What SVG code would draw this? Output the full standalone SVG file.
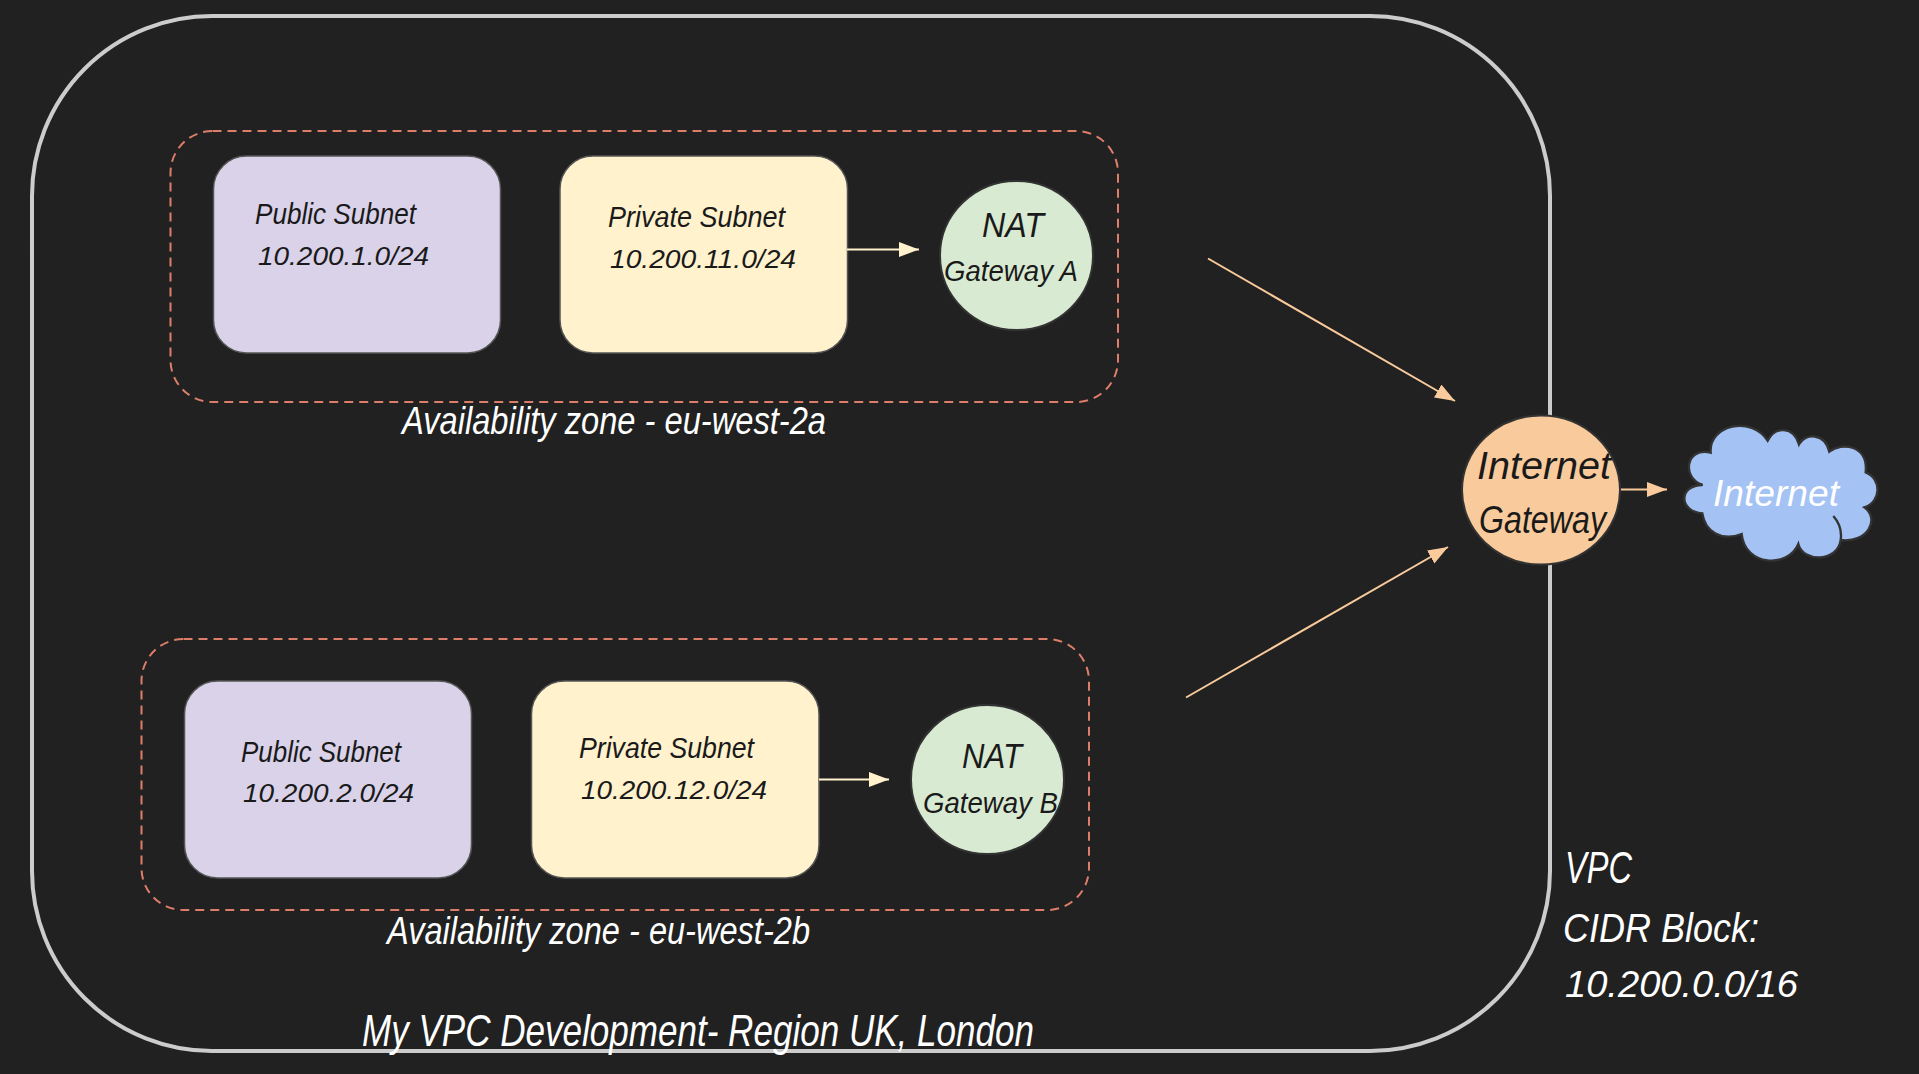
<svg xmlns="http://www.w3.org/2000/svg" width="1919" height="1074" viewBox="0 0 1919 1074">
<style>
text{font-family:"Liberation Sans",Arial,sans-serif;font-style:italic;fill:#1a1a1a}
.w{fill:#fff}
.box{stroke:#555;stroke-width:1.5}
.az{fill:none;stroke:#dd7e6b;stroke-width:2;stroke-dasharray:9 6}
.node{stroke:#333;stroke-width:2}
.c1{fill:none;stroke:#fff2cc;stroke-width:2}
.c2{fill:none;stroke:#f9cb9c;stroke-width:2}
</style>
<defs>
<marker id="a1" markerUnits="userSpaceOnUse" markerWidth="21" markerHeight="16" refX="20" refY="7.5" orient="auto"><path d="M0 0L20 7.5L0 15z" fill="#fff2cc"/></marker>
<marker id="a2" markerUnits="userSpaceOnUse" markerWidth="21" markerHeight="16" refX="20" refY="7.5" orient="auto"><path d="M0 0L20 7.5L0 15z" fill="#f9cb9c"/></marker>
</defs>
<rect width="1919" height="1074" fill="#212121"/>
<g id="vpc">
<rect x="32" y="16" width="1518" height="1035" rx="180" ry="180" fill="none" stroke="#ccc" stroke-width="4"/>
<text class="w" x="362" y="1046" font-size="44" textLength="672" lengthAdjust="spacingAndGlyphs">My VPC Development- Region UK, London</text>
</g>
<g id="az-a">
<rect class="az" x="170.500" y="131" width="947.500" height="271" rx="42"/>
<text class="w" x="402" y="434" font-size="38" textLength="424" lengthAdjust="spacingAndGlyphs">Availability zone - eu-west-2a</text>
</g>
<g id="az-b">
<rect class="az" x="141.500" y="639" width="947.500" height="271" rx="42"/>
<text class="w" x="387" y="944" font-size="38" textLength="423" lengthAdjust="spacingAndGlyphs">Availability zone - eu-west-2b</text>
</g>
<g id="public-a">
<rect class="box" x="213.500" y="156" width="287" height="197" rx="33" fill="#d9d2e9"/>
<text x="255" y="224" font-size="29" textLength="161" lengthAdjust="spacingAndGlyphs">Public Subnet</text>
<text x="258" y="265" font-size="26" textLength="171" lengthAdjust="spacingAndGlyphs">10.200.1.0/24</text>
</g>
<g id="private-a">
<rect class="box" x="560" y="156" width="287.500" height="197" rx="33" fill="#fff2cc"/>
<text x="608" y="227" font-size="29" textLength="177" lengthAdjust="spacingAndGlyphs">Private Subnet</text>
<text x="610" y="268" font-size="26" textLength="186" lengthAdjust="spacingAndGlyphs">10.200.11.0/24</text>
</g>
<g id="nat-a">
<ellipse class="node" cx="1016.500" cy="255.500" rx="76.500" ry="74.500" fill="#d9ead3"/>
<text x="982" y="237" font-size="35" textLength="62" lengthAdjust="spacingAndGlyphs">NAT</text>
<text x="944" y="281" font-size="29" textLength="134" lengthAdjust="spacingAndGlyphs">Gateway A</text>
</g>
<g id="public-b">
<rect class="box" x="184.500" y="681" width="287" height="197" rx="33" fill="#d9d2e9"/>
<text x="241" y="762" font-size="29" textLength="160" lengthAdjust="spacingAndGlyphs">Public Subnet</text>
<text x="243" y="802" font-size="26" textLength="171" lengthAdjust="spacingAndGlyphs">10.200.2.0/24</text>
</g>
<g id="private-b">
<rect class="box" x="531.500" y="681" width="287.500" height="197" rx="33" fill="#fff2cc"/>
<text x="579" y="758" font-size="29" textLength="175" lengthAdjust="spacingAndGlyphs">Private Subnet</text>
<text x="581" y="799" font-size="26" textLength="186" lengthAdjust="spacingAndGlyphs">10.200.12.0/24</text>
</g>
<g id="nat-b">
<ellipse class="node" cx="987.500" cy="779.500" rx="76.500" ry="74.500" fill="#d9ead3"/>
<text x="962" y="768" font-size="35" textLength="60" lengthAdjust="spacingAndGlyphs">NAT</text>
<text x="923" y="813" font-size="29" textLength="135" lengthAdjust="spacingAndGlyphs">Gateway B</text>
</g>
<g id="connectors">
<line class="c1" x1="847" y1="249.500" x2="919" y2="249.500" marker-end="url(#a1)"/>
<line class="c1" x1="819" y1="779.500" x2="889" y2="779.500" marker-end="url(#a1)"/>
<line class="c2" x1="1208" y1="258.500" x2="1455" y2="401" marker-end="url(#a2)"/>
<line class="c2" x1="1186" y1="697.500" x2="1448" y2="547" marker-end="url(#a2)"/>
<line class="c2" x1="1619" y1="489.500" x2="1667" y2="489.500" marker-end="url(#a2)"/>
</g>
<g id="igw">
<ellipse cx="1541" cy="490" rx="79" ry="74.500" fill="#f9cb9c" stroke="#333" stroke-width="2"/>
<text x="1477" y="479" font-size="38" textLength="134" lengthAdjust="spacingAndGlyphs">Internet</text>
<text x="1479" y="533" font-size="38" textLength="127" lengthAdjust="spacingAndGlyphs">Gateway</text>
</g>
<g id="internet">
<path transform="translate(1400 390) scale(.33333)" d="M932 188C925 105 1055 75 1103 152C1125 108 1180 108 1197 163C1215 128 1275 128 1288 185C1325 155 1405 165 1397 247C1445 265 1445 335 1393 352C1440 385 1405 460 1322 450C1315 515 1210 520 1195 462C1165 535 1035 530 1025 432C965 455 915 425 907 370C835 365 835 285 908 285C845 265 855 170 932 188zM1300 378Q1328 410 1322 450" fill="#a4c2f4" stroke="#333" stroke-width="7"/>
<text class="w" x="1713" y="506" font-size="36" textLength="126" lengthAdjust="spacingAndGlyphs">Internet</text>
</g>
<g id="cidr">
<text class="w" x="1565" y="883" font-size="44" textLength="67" lengthAdjust="spacingAndGlyphs">VPC</text>
<text class="w" x="1563" y="942" font-size="40" textLength="196" lengthAdjust="spacingAndGlyphs">CIDR Block:</text>
<text class="w" x="1565" y="997" font-size="36" textLength="233" lengthAdjust="spacingAndGlyphs">10.200.0.0/16</text>
</g>
</svg>
